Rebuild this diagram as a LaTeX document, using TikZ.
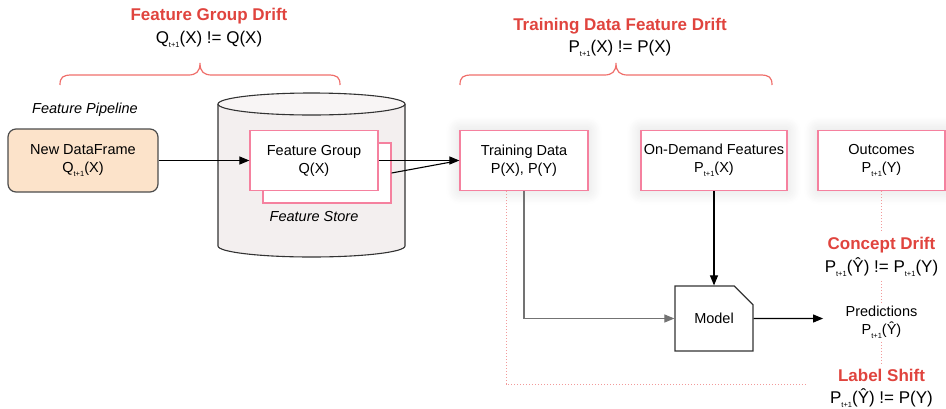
\documentclass[tikz,border=0pt]{standalone}
\usepackage{fontspec}
\setmainfont{Liberation Sans}
\usetikzlibrary{arrows.meta,positioning,shapes.misc,shadows.blur}

\definecolor{driftred}{HTML}{E0443E}
\definecolor{bracered}{HTML}{EF6F6B}
\definecolor{boxpink}{HTML}{F5819F}
\definecolor{peach}{HTML}{FCE3CA}
\definecolor{storefill}{HTML}{F3EFEF}
\definecolor{dotred}{HTML}{F29A9A}

\newcommand{\tone}{\raisebox{-4pt}{\fontsize{7.5}{7.5}\selectfont t+1}}

\begin{document}
\begin{tikzpicture}[x=1pt,y=-1pt,->,>={Triangle[length=10pt,width=8pt]},line width=1.1pt,
                    node distance=200pt,font=\fontsize{14.5}{18}\selectfont]

  \tikzstyle{card}=[rectangle,draw=boxpink,fill=white,line width=1.2pt,align=center,
                    minimum width=128pt,minimum height=60pt,inner sep=2pt]
  \tikzstyle{box}=[card,blur shadow={shadow xshift=0pt,shadow yshift=0pt,shadow blur radius=14pt,
                                     shadow blur steps=12,shadow opacity=14}]
  \tikzstyle{frame}=[rectangle,rounded corners=8pt,draw=black!70,fill=peach,line width=1.2pt,
                     align=center,minimum width=150pt,minimum height=63pt]
  \tikzstyle{model}=[chamfered rectangle,chamfered rectangle corners=north east,
                     chamfered rectangle sep=10pt,draw=black!80,fill=white,line width=1.2pt,
                     minimum width=78pt,minimum height=65pt]
  \tikzstyle{drift}=[align=center,inner sep=4pt,font=\fontsize{17}{22.5}\selectfont]
  \tikzstyle{brace}=[-,draw=bracered,line width=1.2pt]
  \tikzstyle{dots}=[-,draw=dotred,dotted,line width=1pt]

  \useasboundingbox (0,0) rectangle (946,408);

  % feature store
  \fill[storefill] (218,104) -- (218,246) arc[start angle=180,end angle=360,x radius=93.5pt,y radius=11pt]
    -- (405,104) -- cycle;
  \draw[-,black!80] (218,104) -- (218,246) arc[start angle=180,end angle=360,x radius=93.5pt,y radius=11pt]
    -- (405,104);
  \filldraw[-,draw=black!80,fill=storefill!60] (311.5,104) ellipse[x radius=93.5pt,y radius=11pt];

  \node[frame] (NDF) at (83,160.5)              {New DataFrame \\ Q\tone(X)};
  \node[card] (FGB) at (327,173)                {};
  \node[card,node distance=231pt,right of=NDF] (FG)  {Feature Group \\ Q(X)};
  \node[box,node distance=210pt,right of=FG]  (TD)  {Training Data \\ P(X), P(Y)};
  \node[box,minimum width=146pt,node distance=190pt,right of=TD] (ODF) {On-Demand Features \\ P\tone(X)};
  \node[box,minimum width=127pt,node distance=167.5pt,right of=ODF] (OUT) {Outcomes \\ P\tone(Y)};
  \node[model,node distance=158pt,below of=ODF] (MDL) {Model};

  \node[font=\fontsize{14.5}{18}\selectfont\itshape] (FPL) at (85,110)  {Feature Pipeline};
  \node[font=\fontsize{14.5}{18}\selectfont\itshape] (FST) at (314,217) {Feature Store};

  \node[align=center,inner sep=3pt] (PRD) at (881.5,322) {Predictions \\ P\tone(Ŷ)};

  \node[drift] (FGD) at (209,28)    {\textcolor{driftred}{\bfseries Feature Group Drift} \\ Q\tone(X) != Q(X)};
  \node[drift] (TDD) at (620,37.5)  {\textcolor{driftred}{\bfseries Training Data Feature Drift} \\ P\tone(X) != P(X)};
  \node[drift] (CD)  at (881.5,257) {\textcolor{driftred}{\bfseries Concept Drift} \\ P\tone(Ŷ) != P\tone(Y)};
  \node[drift] (LS)  at (881.5,388.5) {\textcolor{driftred}{\bfseries Label Shift} \\ P\tone(Ŷ) != P(Y)};

  \coordinate (LSE) at (808,384);

  % braces
  \draw[brace] (60,85) .. controls (60,77) and (63,75) .. (72,75) -- (188,75)
    .. controls (196,75) and (200,72) .. (200,63) .. controls (200,72) and (204,75) .. (212,75)
    -- (328,75) .. controls (337,75) and (340,77) .. (340,85);
  \draw[brace] (460,85) .. controls (460,77) and (463,75) .. (472,75) -- (604,75)
    .. controls (612,75) and (616,72) .. (616,63) .. controls (616,72) and (620,75) .. (628,75)
    -- (760,75) .. controls (769,75) and (772,77) .. (772,85);

  \path
  (NDF) edge                              (FG)
  (FG)  edge                              (TD)
  (FGB.east) edge [-,shorten >=8pt]       (TD.west)
  (ODF) edge                              (MDL)
  (MDL) edge [shorten >=19pt]             (MDL.east -| PRD.west)
  ;
  \draw[black!55,-{Triangle[length=10pt,width=8pt]}] (TD.south) |- (MDL.west);

  % drift links
  \draw[dots] (OUT.south) -- (CD.north);
  \draw[dots] (CD.south)  -- (PRD.north);
  \draw[dots] (PRD.south) -- (LS.north);
  \draw[dots] ([xshift=-18pt]TD.south) |- (LSE);
\end{tikzpicture}
\end{document}
